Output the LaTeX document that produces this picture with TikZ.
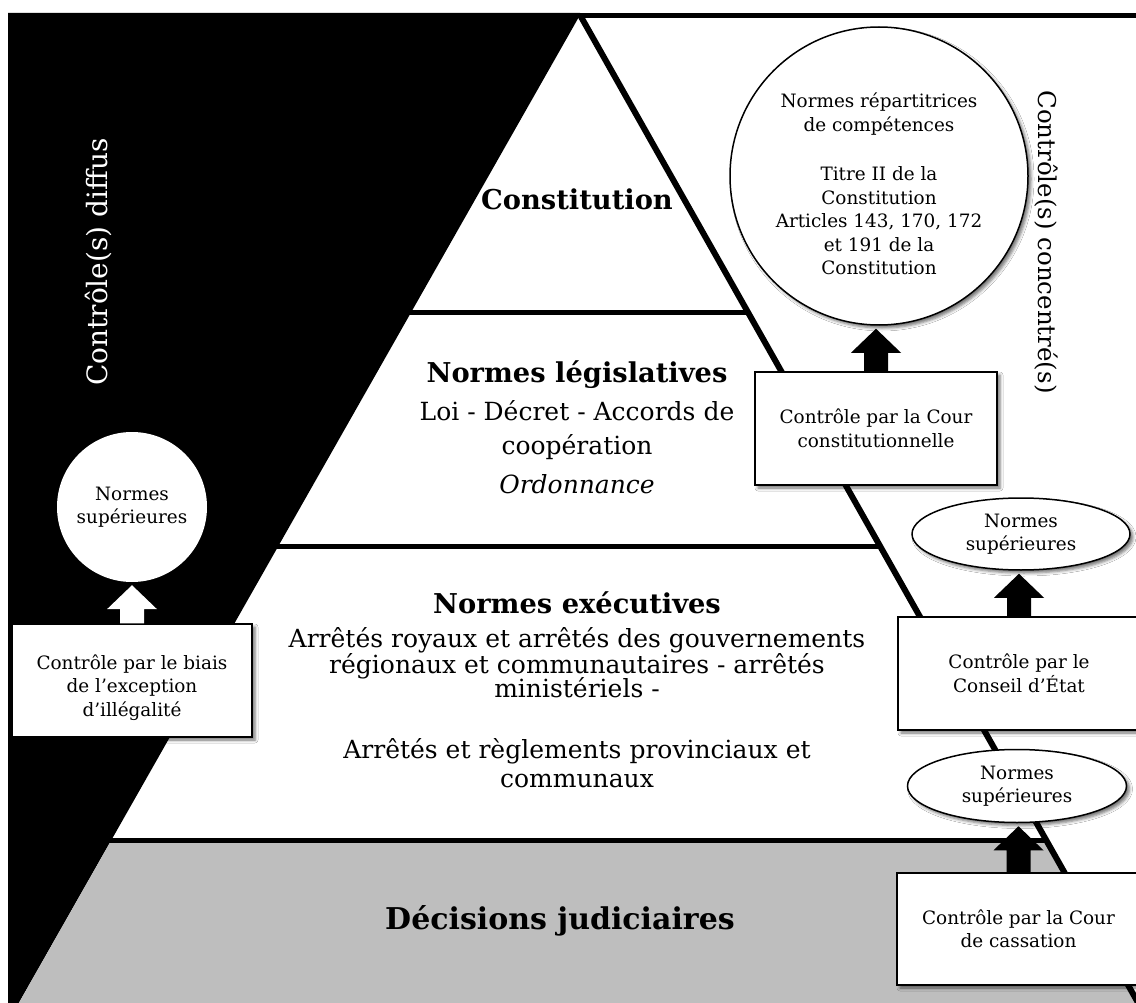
\documentclass[tikz,border=0pt]{standalone}
\usepackage{fontspec}
\setmainfont{DejaVu Serif}
\usetikzlibrary{calc,shapes.geometric,shadows.blur}
\definecolor{tiergray}{RGB}{190,190,190}
% block arrow from the top of node #1 up to the bottom of node #2, filled with #3
\newcommand\blockarr[3]{%
  \path (#1.north) coordinate (ba-foot) (#1.north |- #2.south) coordinate (ba-tip);
  \fill[#3] ($(ba-foot)+(-12,0)$) -- ($(ba-tip)+(-12,27)$) -- ($(ba-tip)+(-25,27)$)
    -- ($(ba-tip)+(0,3)$) -- ($(ba-tip)+(25,27)$) -- ($(ba-tip)+(12,27)$)
    -- ($(ba-foot)+(12,0)$) -- cycle;}
\begin{document}
\begin{tikzpicture}[x=1pt,y=-1pt,
  softshadow/.style={blur shadow={shadow xshift=3pt,shadow yshift=-3pt,shadow blur radius=3pt,shadow opacity=55}},
  smalltext/.style={font=\fontsize{18.4}{23.5}\selectfont, align=center},
  ctlbox/.style={rectangle, draw=black, line width=1.5pt, fill=white, minimum width=242pt,
    minimum height=113pt, inner sep=0pt, smalltext, softshadow},
  normoval/.style={ellipse, draw=black, line width=1.5pt, fill=white, minimum width=218pt,
    minimum height=72pt, inner sep=0pt, smalltext, softshadow},
  tierhead/.style={font=\fontsize{27.3}{30}\selectfont\bfseries, text height=20pt, text depth=6pt},
  tierbody/.style={font=\fontsize{25}{30}\selectfont, text height=19pt, text depth=6pt},
  tierline/.style={line width=5pt},
]
\fill[white] (0,0) rectangle (1136,1003);
\useasboundingbox (0,0) rectangle (1136,1003);

% diffuse-control band on the left of the pyramid
\fill[black] (8,13) -- (580,13) -- (580,15) -- (18.8,1003) -- (8,1003) -- cycle;
% lowest tier
\fill[tiergray] (109.7,843) -- (1047.8,843) -- (1138.2,1003) -- (18.8,1003) -- cycle;
% tier separators
\draw[tierline] (405,313) -- (748.4,313);
\draw[tierline] (272,546) -- (880,546);
\draw[tierline] (105,840.5) -- (1046.4,840.5);
% right flank of the pyramid and top rule
\draw[line width=6pt] (580,15) -- (1138.2,1003);
\draw[line width=5pt] (578,15.5) -- (1136,15.5);

% side labels
\node[rotate=90, text=white, font=\fontsize{28}{30}\selectfont] (diffus) at (98,262) {Contrôle(s) diffus};
\node[rotate=-90, font=\fontsize{24.5}{30}\selectfont] (concentre) at (1046,242) {Contrôle(s) concentré(s)};

% tier texts
\node[tierhead] (tconst) at (577,203) {Constitution};
\node[tierhead] (tleg) at (577,375) {Normes législatives};
\node[tierbody] (tleg1) at (577,414) {Loi - Décret - Accords de};
\node[tierbody] (tleg2) at (577,448) {coopération};
\node[tierbody, font=\fontsize{25}{30}\selectfont\itshape] (tleg3) at (577,487) {Ordonnance};
\node[tierhead] (texe) at (577,606) {Normes exécutives};
\node[tierbody] (texe1) at (577,641) {Arrêtés royaux et arrêtés des gouvernements};
\node[tierbody] (texe2) at (577,667) {régionaux et communautaires - arrêtés};
\node[tierbody] (texe3) at (577,691) {ministériels -};
\node[tierbody] (texe4) at (577,752) {Arrêtés et règlements provinciaux et};
\node[tierbody] (texe5) at (577,781) {communaux};
\node[tierhead, font=\fontsize{30}{32}\selectfont\bfseries, text height=22pt, text depth=7pt] (tjud) at (560,922) {Décisions judiciaires};

% concentrated control: Constitutional Court
\node[circle, draw=black, line width=1.5pt, fill=white, minimum size=298pt, inner sep=0pt, softshadow] (repc) at (879,176) {};
\node[smalltext] (rept) at (879,184) {Normes répartitrices\\de compétences\\[26pt]Titre II de la\\Constitution\\Articles 143, 170, 172\\et 191 de la\\Constitution};
\node[ctlbox] (ccbox) at (876,428.5) {Contrôle par la Cour\\constitutionnelle};

% Council of State
\node[normoval] (sup1) at (1021,534) {Normes\\supérieures};
\node[ctlbox] (cebox) at (1019,673.5) {Contrôle par le\\Conseil d’État};

% Court of Cassation
\node[normoval, minimum width=219pt, minimum height=73pt] (sup2) at (1017,786) {Normes\\supérieures};
\node[ctlbox, minimum width=243pt, minimum height=112pt] (cabox) at (1018.5,929) {Contrôle par la Cour\\de cassation};

% diffuse control: exception of illegality
\node[circle, fill=white, minimum size=150pt, inner sep=0pt, smalltext] (lsup) at (132,507) {Normes\\supérieures};
\node[ctlbox, minimum width=240pt, text height=76pt] (lbox) at (132,680.5) {Contrôle par le biais\\de l’exception\\d’illégalité};

% control arrows
\blockarr{ccbox}{repc}{black}
\blockarr{cebox}{sup1}{black}
\blockarr{cabox}{sup2}{black}
\blockarr{lbox}{lsup}{white}
\end{tikzpicture}
\end{document}
